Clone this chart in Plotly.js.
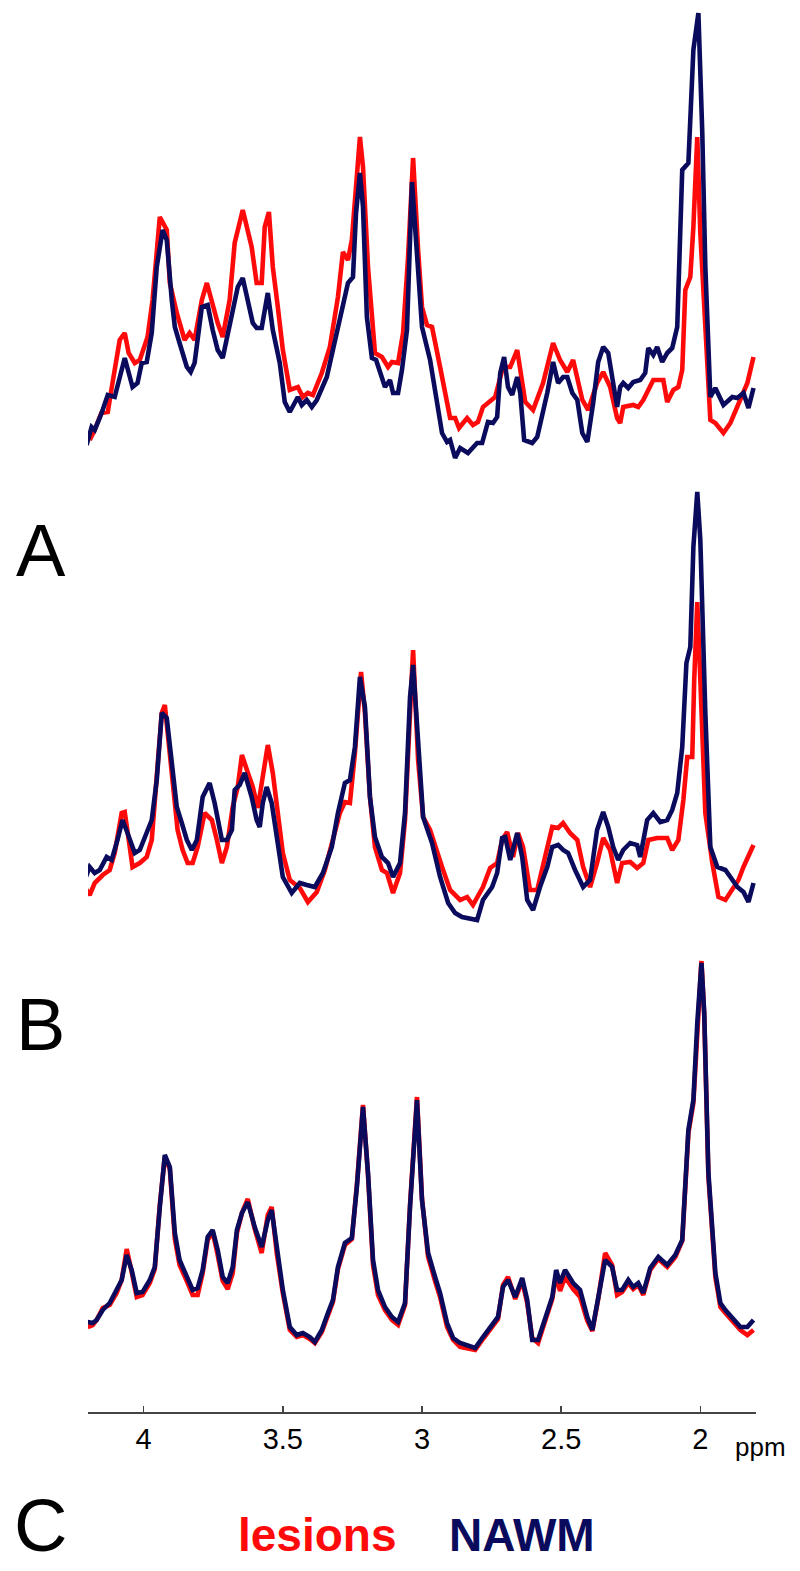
<!DOCTYPE html>
<html>
<head>
<meta charset="utf-8">
<script src="https://cdn.plot.ly/plotly-3.0.1.min.js"></script>
<style>html,body{margin:0;padding:0;background:#fff;}#chart{width:800px;height:1571px;}</style>
</head>
<body>
<div id="chart"></div>
<script>
// ---- Panel A ----
var ppmA_lesions = [4.194,4.176,4.152,4.129,4.112,4.086,4.068,4.054,4.032,4.014,3.986,3.968,3.942,3.917,3.906,3.881,3.853,3.835,3.817,3.791,3.773,3.755,3.734,3.716,3.691,3.673,3.644,3.612,3.594,3.576,3.565,3.550,3.536,3.518,3.500,3.475,3.446,3.428,3.410,3.392,3.360,3.331,3.302,3.284,3.266,3.252,3.234,3.223,3.212,3.194,3.169,3.144,3.122,3.108,3.086,3.068,3.050,3.032,3.014,3.000,2.982,2.964,2.935,2.899,2.881,2.867,2.838,2.817,2.799,2.781,2.737,2.709,2.683,2.658,2.629,2.601,2.565,2.529,2.504,2.478,2.457,2.424,2.403,2.371,2.349,2.324,2.299,2.288,2.277,2.241,2.223,2.205,2.169,2.133,2.119,2.097,2.079,2.065,2.054,2.036,2.025,2.011,2.000,1.982,1.964,1.946,1.917,1.892,1.867,1.831,1.809];
var A_lesions = [20,30,47,48,77,120,127,107,97,100,123,160,243,230,177,147,120,127,120,160,177,157,137,123,160,217,250,213,177,177,233,248,193,153,110,70,73,63,67,65,87,113,163,208,200,220,283,323,293,193,107,103,93,98,97,127,203,302,210,153,135,133,93,42,42,32,42,35,38,53,63,93,93,110,58,50,77,117,100,88,100,60,50,77,88,73,42,37,53,55,53,60,80,80,58,70,73,90,170,183,233,323,227,127,40,37,27,37,53,77,103];
var ppmA_nawm = [4.212,4.205,4.187,4.176,4.151,4.129,4.104,4.079,4.068,4.040,4.022,4.007,3.989,3.971,3.953,3.932,3.917,3.899,3.888,3.871,3.845,3.831,3.817,3.791,3.770,3.752,3.734,3.716,3.691,3.662,3.644,3.626,3.608,3.594,3.576,3.554,3.536,3.511,3.493,3.475,3.446,3.432,3.414,3.396,3.378,3.342,3.306,3.284,3.266,3.248,3.237,3.223,3.212,3.198,3.180,3.165,3.144,3.133,3.115,3.104,3.086,3.072,3.054,3.043,3.036,3.014,3.000,2.971,2.928,2.910,2.899,2.881,2.863,2.835,2.817,2.802,2.784,2.763,2.745,2.730,2.719,2.705,2.691,2.676,2.658,2.647,2.633,2.604,2.586,2.550,2.529,2.511,2.493,2.478,2.460,2.442,2.424,2.406,2.385,2.367,2.349,2.331,2.299,2.288,2.277,2.259,2.241,2.216,2.198,2.187,2.169,2.155,2.137,2.119,2.101,2.083,2.065,2.043,2.025,2.007,1.993,1.982,1.964,1.946,1.917,1.885,1.867,1.845,1.827,1.809];
var A_nawm = [25,15,33,30,47,65,63,93,102,73,77,97,98,127,193,230,220,160,133,117,93,88,97,153,155,130,110,102,133,173,182,160,137,132,132,167,130,97,58,48,63,55,60,53,60,83,127,153,177,183,247,287,253,143,102,100,80,73,80,67,67,90,130,227,278,190,133,100,27,18,20,2,12,7,12,17,17,38,37,43,87,103,73,65,83,67,20,17,23,67,98,77,83,83,67,60,27,18,57,98,113,107,53,73,77,72,78,80,87,112,105,113,98,107,112,133,290,297,410,447,327,193,63,72,55,63,62,67,52,72];

// ---- Panel B ----
var ppmB_lesions = [4.212,4.194,4.176,4.147,4.122,4.104,4.079,4.068,4.050,4.040,4.014,3.989,3.971,3.953,3.935,3.924,3.914,3.896,3.878,3.860,3.842,3.824,3.806,3.781,3.755,3.737,3.719,3.701,3.680,3.662,3.647,3.629,3.608,3.590,3.572,3.554,3.536,3.518,3.500,3.475,3.439,3.410,3.378,3.349,3.320,3.295,3.277,3.259,3.241,3.219,3.205,3.187,3.169,3.144,3.126,3.104,3.079,3.061,3.043,3.032,3.014,2.996,2.971,2.946,2.928,2.899,2.863,2.838,2.817,2.781,2.755,2.730,2.712,2.694,2.673,2.655,2.637,2.612,2.586,2.558,2.532,2.511,2.493,2.468,2.442,2.421,2.396,2.371,2.349,2.324,2.299,2.281,2.252,2.227,2.205,2.187,2.155,2.119,2.101,2.079,2.061,2.047,2.029,2.022,2.011,2.000,1.982,1.957,1.935,1.910,1.885,1.863,1.845,1.827,1.809];
var B_lesions = [48,40,52,60,65,82,122,123,88,68,72,78,95,155,222,230,202,145,105,85,72,72,88,122,115,95,72,88,128,148,180,165,148,127,162,190,162,122,82,55,47,33,43,65,95,122,133,132,182,263,222,138,88,65,62,42,62,115,222,285,175,118,105,82,68,45,35,38,30,48,67,72,95,103,78,102,88,45,45,78,108,107,112,102,95,68,48,72,97,85,52,72,73,67,72,95,97,97,85,95,135,178,178,255,333,255,122,72,38,35,45,55,68,78,90];
var ppmB_nawm = [4.212,4.194,4.176,4.158,4.133,4.115,4.094,4.076,4.058,4.032,4.014,3.996,3.971,3.953,3.935,3.917,3.899,3.881,3.863,3.845,3.827,3.809,3.788,3.763,3.745,3.719,3.701,3.683,3.673,3.655,3.637,3.612,3.594,3.583,3.572,3.558,3.540,3.518,3.500,3.468,3.439,3.414,3.385,3.356,3.324,3.302,3.277,3.259,3.241,3.223,3.205,3.187,3.169,3.144,3.122,3.104,3.079,3.061,3.043,3.032,3.014,2.996,2.964,2.935,2.906,2.881,2.856,2.802,2.781,2.748,2.730,2.712,2.701,2.683,2.658,2.640,2.622,2.601,2.576,2.550,2.532,2.511,2.493,2.475,2.450,2.421,2.396,2.371,2.349,2.331,2.313,2.295,2.277,2.252,2.227,2.216,2.191,2.169,2.144,2.119,2.101,2.083,2.065,2.050,2.036,2.025,2.011,2.000,1.982,1.964,1.939,1.910,1.892,1.867,1.845,1.827,1.809];
var B_nawm = [55,68,62,65,78,75,95,115,102,82,85,98,115,155,222,217,172,128,112,95,85,95,138,152,132,95,95,105,145,150,162,138,115,108,132,148,132,95,58,42,52,50,48,62,88,122,152,155,188,258,228,138,98,78,72,58,72,122,238,270,185,118,92,58,32,22,18,15,35,48,62,97,98,75,102,78,35,25,48,68,88,90,85,82,65,48,55,105,123,108,88,75,85,92,90,78,115,122,113,115,125,142,188,272,288,388,443,395,222,88,68,65,58,48,43,33,52];

// ---- Panel C ----
var ppmC = [4.201,4.183,4.169,4.147,4.122,4.097,4.079,4.061,4.043,4.025,4.004,3.978,3.960,3.942,3.924,3.906,3.888,3.871,3.845,3.824,3.806,3.788,3.770,3.752,3.734,3.716,3.698,3.680,3.665,3.647,3.626,3.601,3.576,3.554,3.540,3.522,3.500,3.475,3.450,3.428,3.403,3.385,3.360,3.338,3.320,3.302,3.277,3.252,3.234,3.212,3.194,3.176,3.158,3.133,3.108,3.086,3.061,3.043,3.018,3.000,2.978,2.953,2.935,2.910,2.888,2.863,2.838,2.809,2.781,2.748,2.727,2.709,2.691,2.665,2.640,2.622,2.604,2.583,2.558,2.532,2.518,2.504,2.486,2.457,2.432,2.406,2.388,2.367,2.342,2.317,2.299,2.281,2.259,2.241,2.223,2.205,2.180,2.151,2.119,2.090,2.065,2.043,2.025,2.011,1.996,1.986,1.971,1.946,1.928,1.910,1.881,1.856,1.831,1.809];
var C_lesions = [38,40,45,57,60,72,85,116,93,68,70,82,96,160,208,196,126,100,84,70,70,92,125,133,110,84,76,92,132,152,166,136,112,150,158,112,72,35,28,30,26,22,33,50,63,96,120,126,180,260,190,100,70,55,45,40,60,160,268,166,108,84,68,38,25,18,17,15,26,38,46,80,88,66,84,62,27,22,45,66,90,74,88,76,68,44,34,66,112,100,70,73,82,76,80,70,95,106,98,108,124,232,262,340,404,350,188,88,58,52,42,35,30,35];
var C_nawm = [43,42,45,55,62,75,85,110,95,72,73,85,98,158,210,198,132,105,88,75,77,95,128,135,115,88,82,98,135,152,163,138,118,145,155,115,75,38,30,32,28,23,35,52,65,98,122,127,178,258,192,105,75,58,48,43,62,158,265,165,112,88,72,42,27,22,20,17,28,40,48,78,85,68,87,65,25,25,48,68,95,82,95,82,75,48,35,65,105,98,75,75,85,78,82,72,97,108,100,110,125,235,265,342,402,352,192,92,62,55,45,38,38,45];

// ---- Tick labels ----
var tickVals = [4, 3.5, 3, 2.5, 2];
var tickText = ['4', '3.5', '3', '2.5', '2'];

var red = '#ff0a0a', navy = '#0b0b5e';
var LW = 4.6;

function tr(x, y, color, yaxis, name) {
  return {x: x, y: y, type: 'scatter', mode: 'lines', name: name, yaxis: yaxis, xaxis: 'x',
          line: {color: color, width: LW, shape: 'linear'}, hoverinfo: 'skip', showlegend: false};
}

var data = [
  tr(ppmA_lesions, A_lesions, red, 'y', 'lesions'),
  tr(ppmA_nawm, A_nawm, navy, 'y', 'NAWM'),
  tr(ppmB_lesions, B_lesions, red, 'y2', 'lesions'),
  tr(ppmB_nawm, B_nawm, navy, 'y2', 'NAWM'),
  tr(ppmC, C_lesions, red, 'y3', 'lesions'),
  tr(ppmC, C_nawm, navy, 'y3', 'NAWM')
];

var hiddenY = {range: [0, 460], visible: false, fixedrange: true};
var AF = 'Liberation Sans, Arial, sans-serif';
var layout = {
  width: 800, height: 1571,
  margin: {l: 88, r: 44, t: 0, b: 158},
  paper_bgcolor: '#ffffff', plot_bgcolor: 'rgba(0,0,0,0)',
  showlegend: false,
  font: {family: AF, color: '#000'},
  xaxis: {
    range: [4.2, 1.80], anchor: 'free', position: 0,
    tickvals: tickVals, ticktext: tickText,
    ticks: 'inside', ticklen: 6, tickwidth: 1.5, tickcolor: '#444',
    showline: true, linecolor: '#444', linewidth: 2.2,
    showgrid: false, zeroline: false,
    tickfont: {family: AF, size: 29, color: '#000'}
  },
  yaxis: Object.assign({domain: [0.67445, 1.0]}, hiddenY),
  yaxis2: Object.assign({domain: [0.33829, 0.66384]}, hiddenY),
  yaxis3: Object.assign({domain: [0.03397, 0.35952]}, hiddenY),
  annotations: [
    {text: 'A', xref: 'paper', yref: 'paper', x: -0.0706, y: 0.6104, xanchor: 'center', yanchor: 'middle', showarrow: false, font: {family: AF, size: 74, color: '#000'}},
    {text: 'B', xref: 'paper', yref: 'paper', x: -0.0706, y: 0.2753, xanchor: 'center', yanchor: 'middle', showarrow: false, font: {family: AF, size: 74, color: '#000'}},
    {text: 'C', xref: 'paper', yref: 'paper', x: -0.0706, y: -0.0793, xanchor: 'center', yanchor: 'middle', showarrow: false, font: {family: AF, size: 74, color: '#000'}},
    {text: 'ppm', xref: 'paper', yref: 'paper', x: 1.006, y: -0.024, xanchor: 'center', yanchor: 'middle', showarrow: false, font: {family: AF, size: 26, color: '#000'}},
    {text: '<b>lesions</b>', xref: 'paper', yref: 'paper', x: 0.343, y: -0.0865, xanchor: 'center', yanchor: 'middle', showarrow: false, font: {family: AF, size: 46, color: red}},
    {text: '<b>NAWM</b>', xref: 'paper', yref: 'paper', x: 0.650, y: -0.0865, xanchor: 'center', yanchor: 'middle', showarrow: false, font: {family: AF, size: 46, color: navy}}
  ]
};

Plotly.newPlot('chart', data, layout, {staticPlot: true, displayModeBar: false});
</script>
</body>
</html>
